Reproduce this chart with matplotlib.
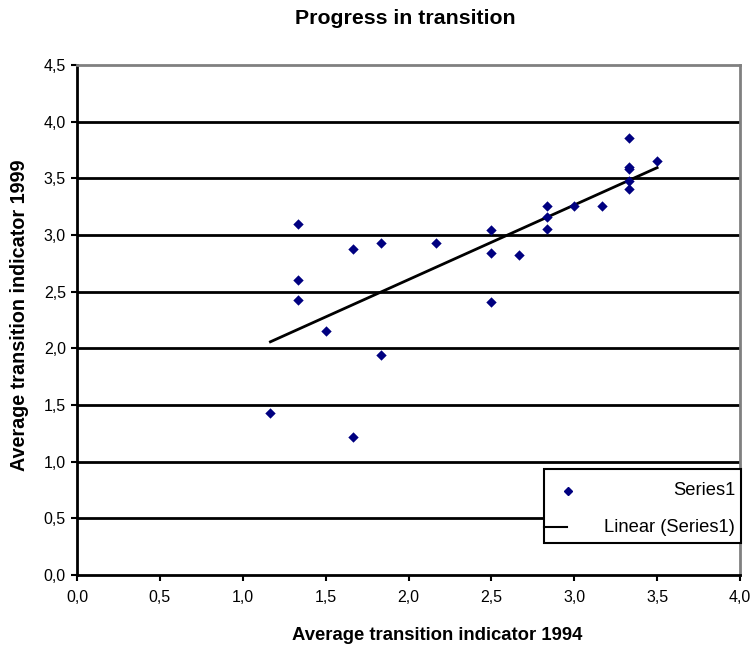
import matplotlib
matplotlib.use("Agg")
import matplotlib.pyplot as plt
from matplotlib.patches import Rectangle
from matplotlib.lines import Line2D
from matplotlib.ticker import FuncFormatter
import numpy as np

plt.rcParams['font.family'] = ['Liberation Sans', 'DejaVu Sans']

# data
x1994 = [1.333, 1.667, 1.833, 2.167, 1.333, 1.333, 1.5, 1.833, 1.167, 1.667,
         3.333, 3.5, 3.333, 3.333, 3.333, 3.333, 2.833, 2.833, 2.833, 3.0,
         3.167, 2.5, 2.5, 2.667, 2.5]
y1999 = [3.10, 2.88, 2.93, 2.93, 2.60, 2.43, 2.15, 1.94, 1.43, 1.22,
         3.86, 3.65, 3.60, 3.58, 3.48, 3.41, 3.26, 3.16, 3.05, 3.26,
         3.26, 3.04, 2.84, 2.82, 2.41]

xticks = [0.0, 0.5, 1.0, 1.5, 2.0, 2.5, 3.0, 3.5, 4.0]
yticks = [0.0, 0.5, 1.0, 1.5, 2.0, 2.5, 3.0, 3.5, 4.0, 4.5]

# linear trend
k, b = np.polyfit(x1994, y1999, 1)
xfit = np.array([min(x1994), max(x1994)])
yfit = k * xfit + b

fig = plt.figure(figsize=(7.52, 6.49), dpi=100)
ax = fig.add_axes([77/752, 1 - 575/649, 663/752, 510/649])

for yt in yticks[1:-1]:
    ax.axhline(yt, color='black', lw=2, zorder=1)

ax.plot(xfit, yfit, color='black', lw=2, zorder=2)
ax.scatter(x1994, y1999, marker='D', s=28, color='#000080', zorder=3, linewidths=0)

ax.set_xlim(0, 4.0)
ax.set_ylim(0, 4.5)
ax.set_xticks(xticks)
ax.set_yticks(yticks)
fmt = FuncFormatter(lambda v, p: ('%.1f' % v).replace('.', ','))
ax.xaxis.set_major_formatter(fmt)
ax.yaxis.set_major_formatter(fmt)
ax.tick_params(direction='out', length=4, width=1.5, labelsize=11.5)
ax.tick_params(axis='x', pad=7)
ax.tick_params(axis='y', pad=4)

for s in ['top', 'right']:
    ax.spines[s].set_color('#808080')
    ax.spines[s].set_linewidth(2)
for s in ['bottom', 'left']:
    ax.spines[s].set_color('black')
    ax.spines[s].set_linewidth(2)

ax.set_xlabel('Average transition indicator 1994', fontsize=13.3, fontweight='bold', va='center')
ax.set_ylabel('Average transition indicator 1999', fontsize=14.2, fontweight='bold', va='center')
ax.xaxis.set_label_coords(0.543, -0.118)
ax.yaxis.set_label_coords(-0.086, 0.51)
fig.text(405/752, 1 - 18/649, 'Progress in transition', fontsize=15.3, fontweight='bold',
         ha='center', va='center')

# legend box
ax.add_patch(Rectangle((0.704, 0.063), 0.298, 0.145, transform=ax.transAxes,
                       facecolor='white', edgecolor='black', lw=1.5, zorder=5, clip_on=False))
ax.add_line(Line2D([0.74], [0.165], transform=ax.transAxes, marker='D', markersize=4.5,
                   color='#000080', lw=0, zorder=6))
ax.add_line(Line2D([0.704, 0.739], [0.094, 0.094], transform=ax.transAxes,
                   color='black', lw=1.5, zorder=6))
ax.text(0.993, 0.165, 'Series1', transform=ax.transAxes, ha='right', va='center', fontsize=13.2, zorder=7)
ax.text(0.993, 0.094, 'Linear (Series1)', transform=ax.transAxes, ha='right', va='center', fontsize=13.2, zorder=7)

fig.savefig("out.png", dpi=100)
